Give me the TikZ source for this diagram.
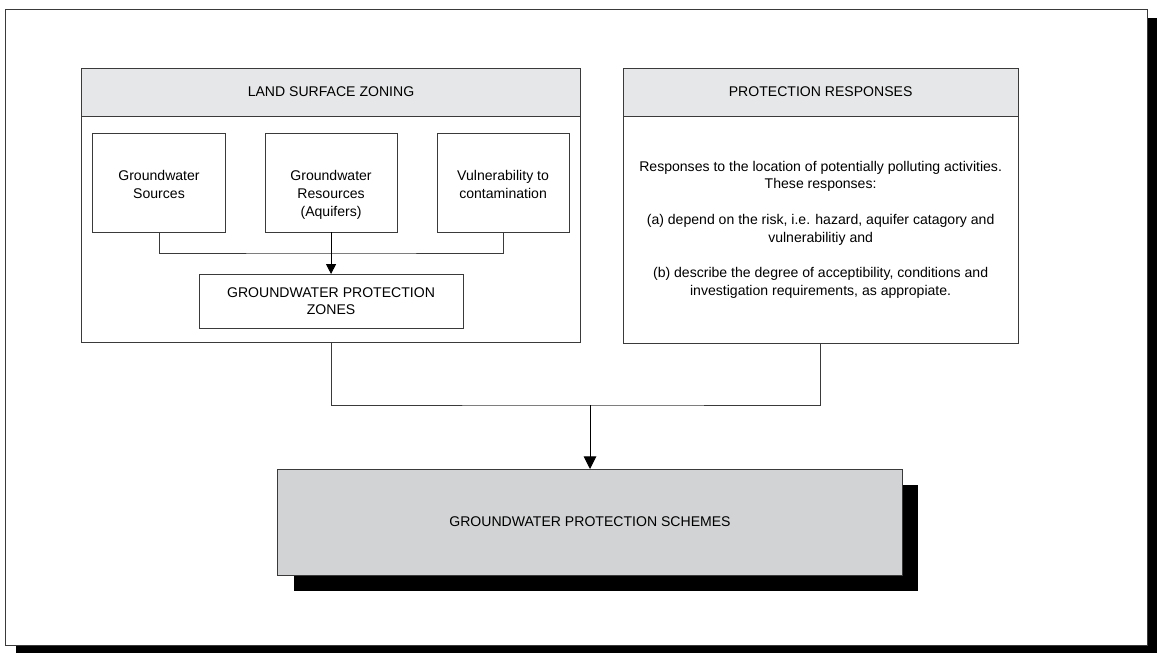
\documentclass[tikz,border=0pt]{standalone}
\usepackage{fontspec}
\setmainfont{Liberation Sans}
\usetikzlibrary{positioning,arrows.meta,shadows}
\definecolor{headgray}{HTML}{E6E7E8}
\definecolor{schemegray}{HTML}{D1D3D4}
\definecolor{linegray}{HTML}{3A3A3A}

\begin{document}
\begin{tikzpicture}[x=0.025cm,y=-0.025cm,line width=0.7pt,
  box/.style={draw=linegray,fill=white,inner sep=0pt,outer sep=0pt},
  headbox/.style={box,fill=headgray,minimum height=1.2cm},
  srcbox/.style={box,minimum width=3.3cm,minimum height=2.475cm},
  lbl/.style={align=center,inner sep=0pt,font=\fontsize{10pt}{12.6pt}\selectfont},
  arrowto/.style={-{Triangle[width=7pt,length=7pt]}},
  bigarrowto/.style={-{Triangle[width=9pt,length=9pt]}}]
  \useasboundingbox (0,0) rectangle (1157,653);
  \node[box,minimum width=28.525cm,minimum height=15.875cm,
    drop shadow={shadow xshift=0.25cm,shadow yshift=-0.2cm,fill=black,opacity=1}] (frame) at (576.5,327.5) {};

  % land surface zoning
  \node[headbox,lbl,minimum width=12.45cm] (zonehead) at (331,92) {LAND SURFACE ZONING};
  \node[box,minimum width=12.45cm,minimum height=5.65cm,below=0cm of zonehead] (zoning) {};
  \node[srcbox] (src) at (159,182.5) {};
  \node[srcbox,right=1cm of src] (res) {};
  \node[srcbox,right=1cm of res] (vul) {};
  \node[lbl,below=0.925cm of src.north] (srctext) {Groundwater\\Sources};
  \node[lbl,below=0.925cm of res.north] (restext) {Groundwater\\Resources\\(Aquifers)};
  \node[lbl,below=0.925cm of vul.north] (vultext) {Vulnerability to\\contamination};
  \node[box,lbl,minimum width=6.6cm,minimum height=1.35cm,below=1.05cm of res] (gpz) {GROUNDWATER PROTECTION\\ZONES};

  % protection responses
  \node[headbox,lbl,minimum width=9.875cm,right=1.075cm of zonehead] (resphead) {PROTECTION RESPONSES};
  \node[box,minimum width=9.875cm,minimum height=5.675cm,below=0cm of resphead] (resp) {};
  \node[lbl] (resptext) at (resp) {Responses to the location of potentially polluting activities.\\
    These responses:\\[12.6pt]
    (a) depend on the risk, i.e. hazard, aquifer catagory and\\
    vulnerabilitiy and\\[12.6pt]
    (b) describe the degree of acceptibility, conditions and\\
    investigation requirements, as appropiate.};

  \node[box,lbl,fill=schemegray,minimum width=15.6cm,minimum height=2.65cm,
    drop shadow={shadow xshift=0.4cm,shadow yshift=-0.4cm,fill=black,opacity=1}] (scheme) at (590,522) {GROUNDWATER PROTECTION SCHEMES};

  \coordinate (merge) at (331,253);
  \coordinate (join) at (590,405);
  \draw[linegray] (src.south) |- (merge) -| (vul.south);
  \draw[arrowto] (res.south) -- (gpz.north);
  \draw[linegray] (zoning.south) |- (join) -| (resp.south);
  \draw[bigarrowto] (join) -- (scheme.north);
\end{tikzpicture}
\end{document}
